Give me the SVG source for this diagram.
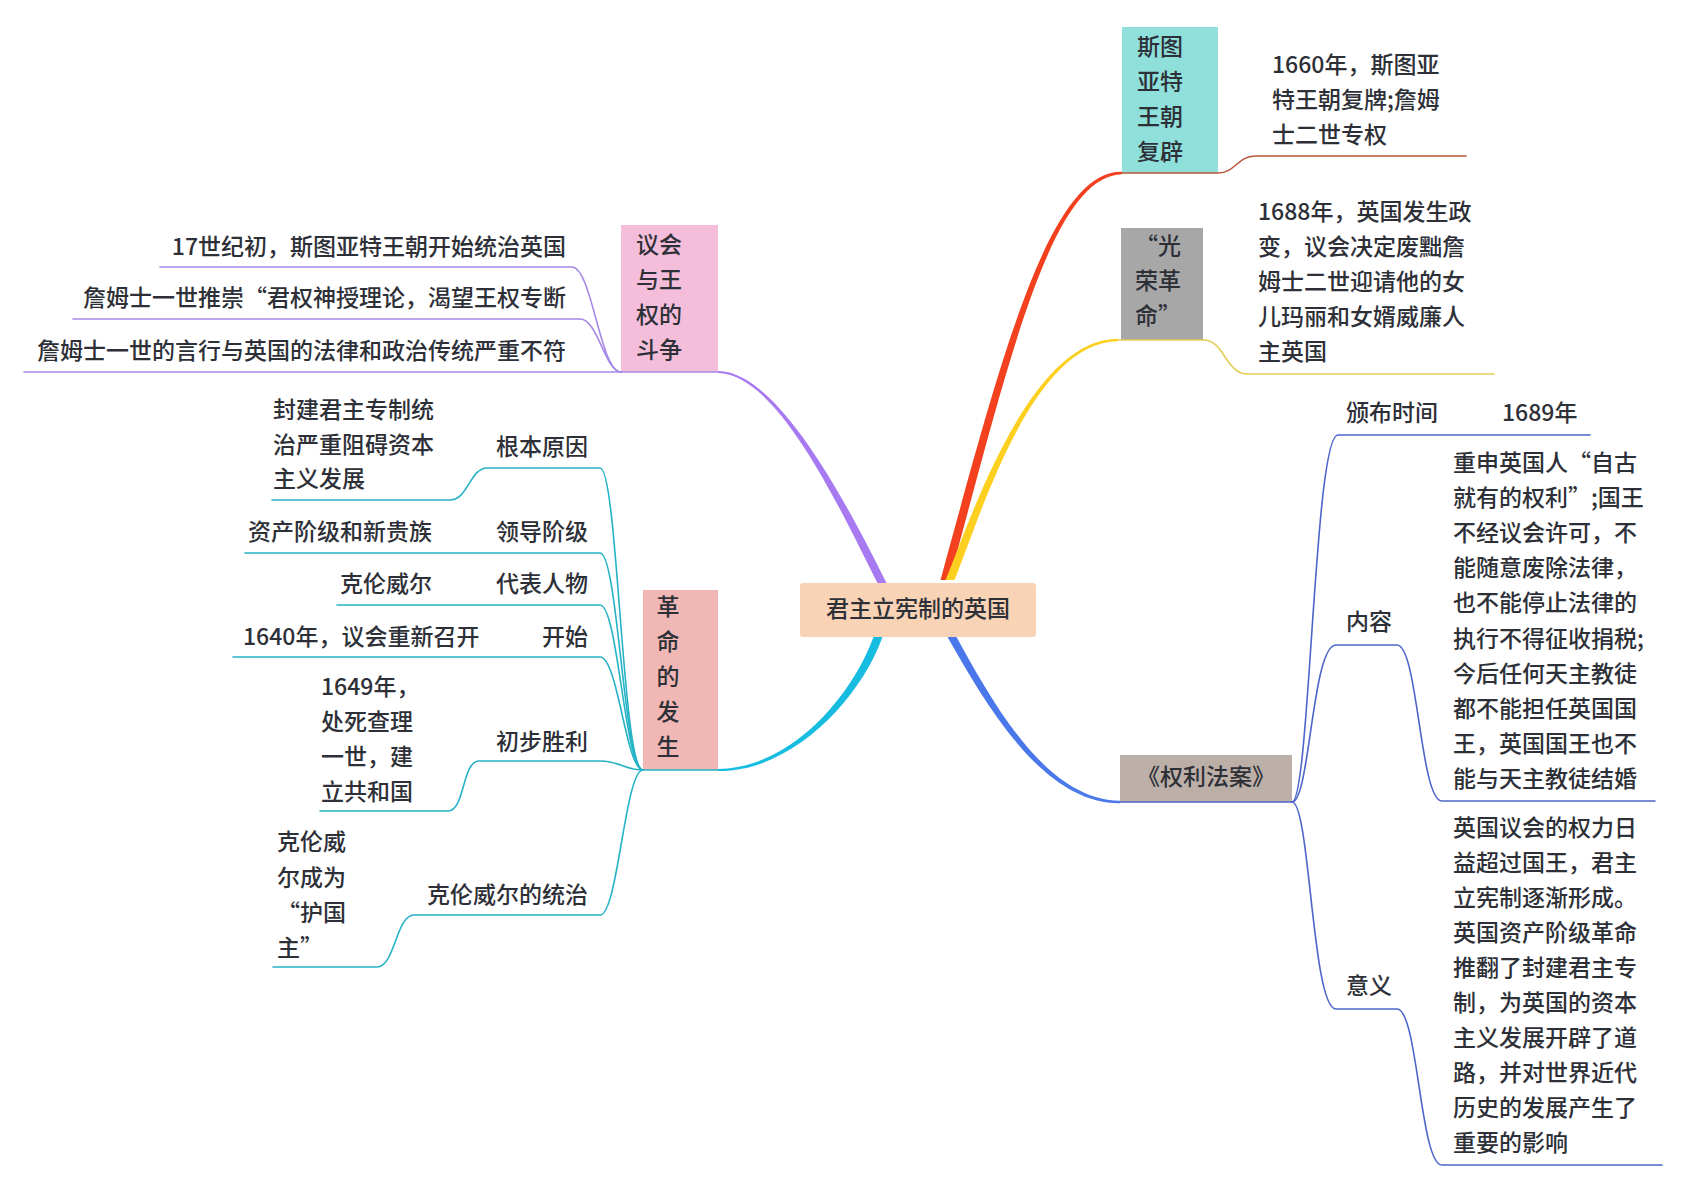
<svg xmlns="http://www.w3.org/2000/svg" width="1682" height="1190" viewBox="0 0 1682 1190" lang="zh-CN">
<style>
.t{font-family:"Noto Sans CJK SC","Noto Sans",sans-serif;font-size:23px;fill:#2E3038;font-weight:500}
.e{text-anchor:end}
.m{text-anchor:middle}
.sub{fill:none;stroke-width:1.6;stroke-linecap:round}
.pu{stroke:#A689E6}
.cy{stroke:#27B3C6}
.rd{stroke:#B9573A}
.ye{stroke:#E2CD55}
.bl{stroke:#4C66C9}
</style>
<rect width="1682" height="1190" fill="#FFFFFF"/>

<g id="n-center"><rect x="800" y="583" width="236" height="54" rx="3" fill="#F9D3B6"/><text class="t m" x="918" y="617">君主立宪制的英国</text></g>

<g id="n-struggle"><rect x="621" y="225" width="97" height="147" fill="#F4BEDA"/>
<text class="t" x="636" y="253">议会</text><text class="t" x="636" y="288">与王</text><text class="t" x="636" y="323">权的</text><text class="t" x="636" y="358">斗争</text></g>
<g id="n-s1"><text class="t e" x="566" y="255">17世纪初，斯图亚特王朝开始统治英国</text></g>
<g id="n-s2"><text class="t e" x="566" y="306">詹姆士一世推崇“君权神授理论，渴望王权专断</text></g>
<g id="n-s3"><text class="t e" x="566" y="359">詹姆士一世的言行与英国的法律和政治传统严重不符</text></g>

<g id="n-rev"><rect x="643" y="590" width="75" height="180" fill="#F1B7B4"/>
<text class="t m" x="668" y="615">革</text><text class="t m" x="668" y="650">命</text><text class="t m" x="668" y="685">的</text><text class="t m" x="668" y="720">发</text><text class="t m" x="668" y="755">生</text></g>
<g id="n-cause"><text class="t e" x="588" y="455">根本原因</text></g>
<g id="n-cause-d"><text class="t" x="273" y="418">封建君主专制统</text><text class="t" x="273" y="453">治严重阻碍资本</text><text class="t" x="273" y="487">主义发展</text></g>
<g id="n-lead"><text class="t e" x="588" y="540">领导阶级</text></g>
<g id="n-lead-d"><text class="t" x="248" y="540">资产阶级和新贵族</text></g>
<g id="n-rep"><text class="t e" x="588" y="592">代表人物</text></g>
<g id="n-rep-d"><text class="t" x="340" y="592">克伦威尔</text></g>
<g id="n-start"><text class="t e" x="588" y="645">开始</text></g>
<g id="n-start-d"><text class="t" x="243" y="645">1640年，议会重新召开</text></g>
<g id="n-victory"><text class="t e" x="588" y="750">初步胜利</text></g>
<g id="n-victory-d"><text class="t" x="321" y="695">1649年，</text><text class="t" x="321" y="730">处死查理</text><text class="t" x="321" y="765">一世，建</text><text class="t" x="321" y="800">立共和国</text></g>
<g id="n-crom"><text class="t e" x="588" y="903">克伦威尔的统治</text></g>
<g id="n-crom-d"><text class="t" x="277" y="850">克伦威</text><text class="t" x="277" y="886">尔成为</text><text class="t" x="277" y="921">“护国</text><text class="t" x="277" y="956">主”</text></g>

<g id="n-stuart"><rect x="1122" y="27" width="96" height="146" fill="#8FE0DA"/>
<text class="t" x="1137" y="55">斯图</text><text class="t" x="1137" y="90">亚特</text><text class="t" x="1137" y="125">王朝</text><text class="t" x="1137" y="160">复辟</text></g>
<g id="n-stuart-d"><text class="t" x="1272" y="73">1660年，斯图亚</text><text class="t" x="1272" y="108">特王朝复牌;詹姆</text><text class="t" x="1272" y="143">士二世专权</text></g>

<g id="n-glorious"><rect x="1121" y="228" width="82" height="112" fill="#A7A7A7"/>
<text class="t" x="1135" y="254">“光</text><text class="t" x="1135" y="289">荣革</text><text class="t" x="1135" y="324">命”</text></g>
<g id="n-glorious-d"><text class="t" x="1258" y="220">1688年，英国发生政</text><text class="t" x="1258" y="255">变，议会决定废黜詹</text><text class="t" x="1258" y="290">姆士二世迎请他的女</text><text class="t" x="1258" y="325">儿玛丽和女婿威廉人</text><text class="t" x="1258" y="360">主英国</text></g>

<g id="n-bill"><rect x="1120" y="755" width="172" height="47" fill="#BCAFA7"/><text class="t m" x="1206" y="785">《权利法案》</text></g>
<g id="n-date"><text class="t" x="1346" y="421">颁布时间</text></g>
<g id="n-date-d"><text class="t" x="1502" y="421">1689年</text></g>
<g id="n-content"><text class="t" x="1346" y="630">内容</text></g>
<g id="n-content-d">
<text class="t" x="1453" y="471">重申英国人“自古</text>
<text class="t" x="1453" y="506">就有的权利”;国王</text>
<text class="t" x="1453" y="541">不经议会许可，不</text>
<text class="t" x="1453" y="576">能随意废除法律，</text>
<text class="t" x="1453" y="611">也不能停止法律的</text>
<text class="t" x="1453" y="647">执行不得征收捐税;</text>
<text class="t" x="1453" y="682">今后任何天主教徒</text>
<text class="t" x="1453" y="717">都不能担任英国国</text>
<text class="t" x="1453" y="752">王，英国国王也不</text>
<text class="t" x="1453" y="787">能与天主教徒结婚</text></g>
<g id="n-meaning"><text class="t" x="1346" y="994">意义</text></g>
<g id="n-meaning-d">
<text class="t" x="1453" y="836">英国议会的权力日</text>
<text class="t" x="1453" y="871">益超过国王，君主</text>
<text class="t" x="1453" y="906">立宪制逐渐形成。</text>
<text class="t" x="1453" y="941">英国资产阶级革命</text>
<text class="t" x="1453" y="976">推翻了封建君主专</text>
<text class="t" x="1453" y="1011">制，为英国的资本</text>
<text class="t" x="1453" y="1046">主义发展开辟了道</text>
<text class="t" x="1453" y="1081">路，并对世界近代</text>
<text class="t" x="1453" y="1116">历史的发展产生了</text>
<text class="t" x="1453" y="1151">重要的影响</text></g>

<g id="connectors">
<path d="M718 371 C780 370.5 854 518 886.5 583 L877.5 583 C846 522 780 373.5 718 373 Z" fill="#A87AF2"/>
<path d="M882.5 637 C859 702 790 772 718 771 L718 769 C790 768 851 698 873.5 637 Z" fill="#17BDE0"/>
<path d="M949.5 580 C1009 361 1051 176 1122 174.2 L1122 171.8 C1049 170 1001 359 940.5 580 Z" fill="#F3401F"/>
<path d="M954.5 580 C979 521 1031 341.2 1118 341.2 L1118 338.8 C1029 338.8 971 519 945.5 580 Z" fill="#FDD020"/>
<path d="M956.5 637 C993 703 1046 800 1120 800.8 L1120 803.2 C1044 804 987 707 947.5 637 Z" fill="#4A78EA"/>

<path class="sub pu" d="M718 372 H621" stroke-width="2"/>
<path class="sub pu" d="M160 267 H572 C592 267 600 372 621 372"/>
<path class="sub pu" d="M73 319 H580 C598 319 605 372 621 372"/>
<path class="sub pu" d="M24 372 H621"/>

<path class="sub cy" d="M718 770 H643" stroke-width="2"/>
<path class="sub cy" d="M272 500 H450 C468 500 470 468 487 468 H600 C618 468 622 770 643 770"/>
<path class="sub cy" d="M245 553 H600 C618 553 624 770 643 770"/>
<path class="sub cy" d="M337 605 H600 C618 605 625 770 643 770"/>
<path class="sub cy" d="M233 657 H600 C618 657 626 770 643 770"/>
<path class="sub cy" d="M320 811 H448 C465 811 462 761 479 761 H600 C620 761 625 770 643 770"/>
<path class="sub cy" d="M273 967 H377 C395 967 396 915 414 915 H600 C618 915 625 770 643 770"/>

<path class="sub rd" d="M1122 173 H1218 C1235 173 1238 156 1255 156 H1466" stroke-width="1.8"/>
<path class="sub ye" d="M1118 340 H1203 C1225 340 1225 374 1248 374 H1494" stroke-width="1.8"/>

<path class="sub bl" d="M1120 802 H1292" stroke-width="2"/>
<path class="sub bl" d="M1292 802 C1310 802 1314 435 1338 435 H1590"/>
<path class="sub bl" d="M1292 802 C1310 802 1312 645 1336 645 H1397 C1418 645 1420 801 1442 801 H1655"/>
<path class="sub bl" d="M1292 802 C1310 802 1312 1009 1336 1009 H1397 C1418 1009 1420 1165 1442 1165 H1662"/>
</g>
</svg>
